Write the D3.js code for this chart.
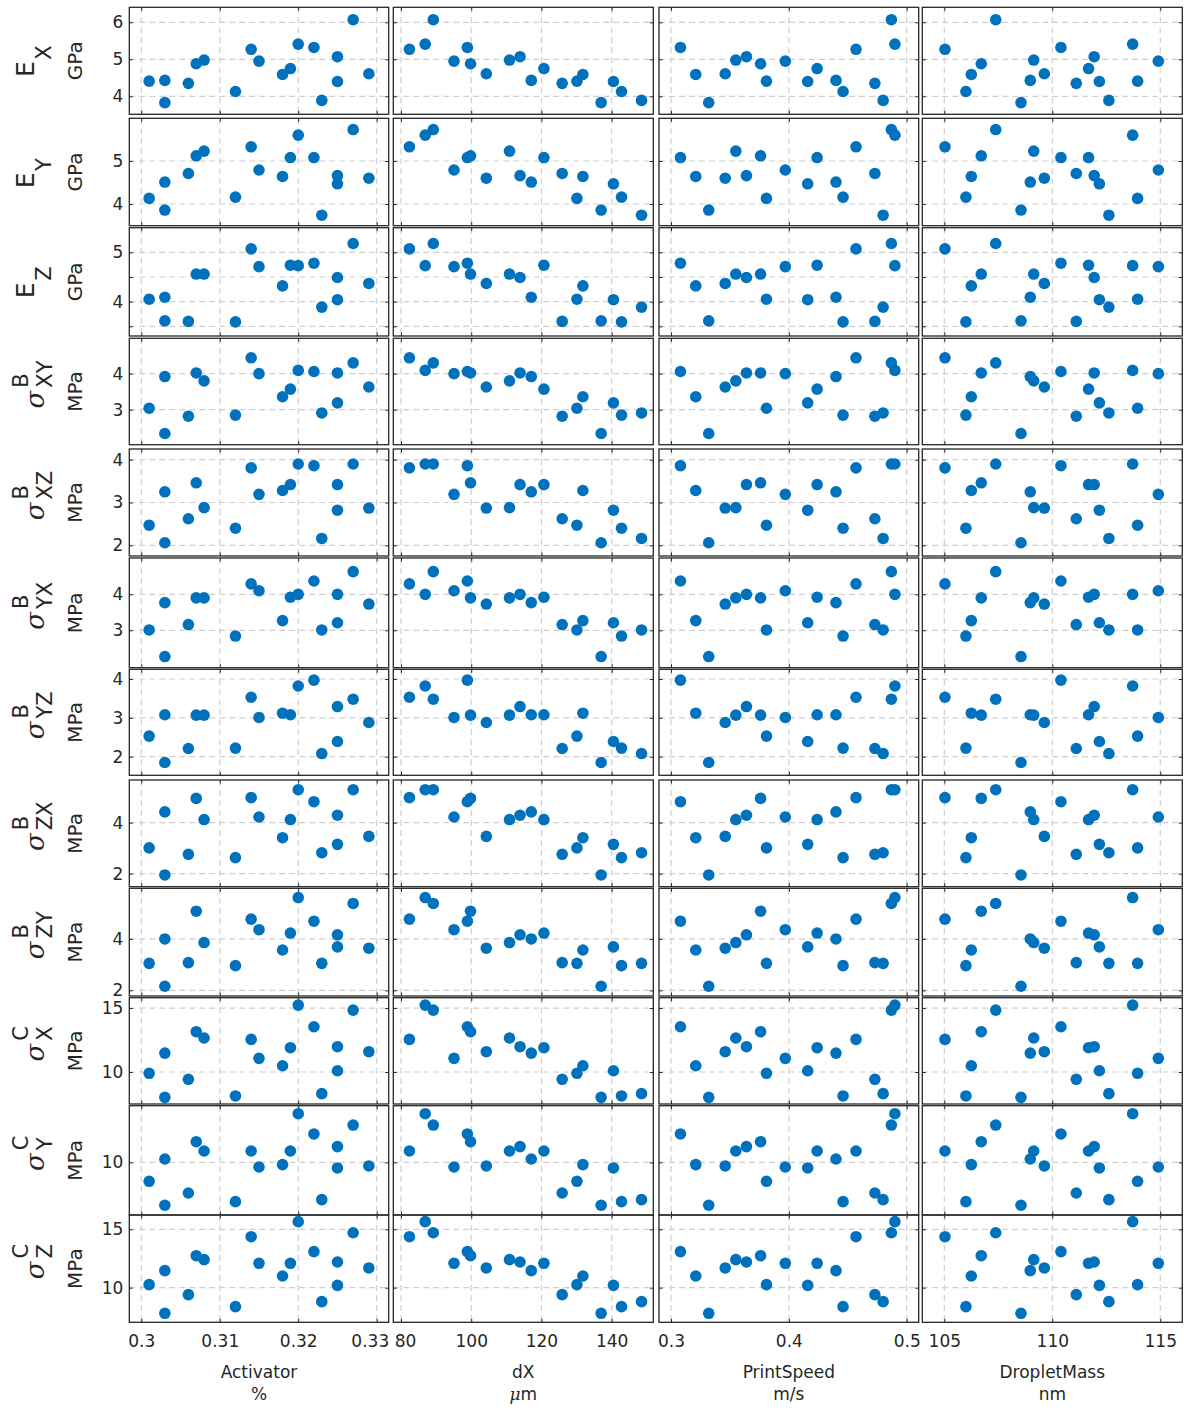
<!DOCTYPE html>
<html lang="en">
<head>
<meta charset="utf-8">
<title>print parameters vs stiffness and strength</title>
<script src="https://cdnjs.cloudflare.com/ajax/libs/d3/7.8.5/d3.min.js"></script>
<style>
  body { margin: 0; background: #fff; }
  text { font-family: "DejaVu Sans", sans-serif; fill: #262626; }
  .grid line { stroke: #cfcfcf; stroke-width: 1.2; stroke-dasharray: 6,4; }
  .ticks path { display: none; }
  .ticks line { stroke: #262626; stroke-width: 1; }
</style>
</head>
<body>
<script>
// ---- inputs, one entry per printed sample ----
var activator   = [0.301, 0.303, 0.303, 0.306, 0.307, 0.308, 0.312, 0.314, 0.315, 0.318, 0.319, 0.320, 0.322, 0.323, 0.325, 0.325, 0.327, 0.329];
var dX          = [130.1, 117.1, 137.0, 125.9, 99.8, 110.9, 142.8, 82.4, 95.1, 131.8, 120.7, 86.9, 98.9, 148.5, 113.9, 140.5, 89.2, 104.3];
var printSpeed  = [0.381, 0.440, 0.332, 0.473, 0.376, 0.355, 0.446, 0.457, 0.397, 0.321, 0.424, 0.490, 0.308, 0.480, 0.364, 0.416, 0.487, 0.346];
var dropletMass = [113.95, 108.98, 108.55, 111.11, 106.71, 109.14, 106.0, 105.03, 114.91, 106.25, 111.68, 113.72, 110.40, 112.62, 111.94, 112.18, 107.38, 109.63];

// ---- outputs ----
var Ex   = [4.41, 4.43, 3.83, 4.35, 4.88, 4.98, 4.13, 5.27, 4.95, 4.59, 4.75, 5.41, 5.32, 3.89, 5.07, 4.40, 6.07, 4.61];
var Ey   = [4.13, 4.51, 3.86, 4.71, 5.12, 5.23, 4.16, 5.33, 4.79, 4.64, 5.08, 5.60, 5.08, 3.74, 4.66, 4.47, 5.73, 4.60];
var Ez   = [4.05, 4.09, 3.61, 3.60, 4.56, 4.56, 3.59, 5.07, 4.71, 4.32, 4.74, 4.73, 4.78, 3.89, 4.49, 4.04, 5.18, 4.37];
var sBXY = [3.04, 3.92, 2.34, 2.82, 4.02, 3.80, 2.85, 4.44, 4.00, 3.36, 3.57, 4.09, 4.06, 2.91, 4.02, 3.19, 4.30, 3.63];
var sBXZ = [2.47, 3.25, 2.06, 2.62, 3.46, 2.88, 2.40, 3.81, 3.19, 3.28, 3.42, 3.90, 3.86, 2.16, 3.42, 2.82, 3.90, 2.87];
var sBYX = [3.01, 3.77, 2.27, 3.16, 3.90, 3.90, 2.84, 4.29, 4.10, 3.27, 3.92, 4.00, 4.37, 3.01, 4.00, 3.21, 4.63, 3.73];
var sBYZ = [2.53, 3.08, 1.85, 2.21, 3.07, 3.07, 2.22, 3.53, 3.01, 3.12, 3.08, 3.82, 3.97, 2.08, 3.29, 2.39, 3.48, 2.88];
var sBZX = [3.01, 4.42, 1.95, 2.76, 4.95, 4.12, 2.63, 4.98, 4.22, 3.41, 4.12, 5.29, 4.82, 2.82, 4.29, 3.15, 5.29, 3.46];
var sBZY = [3.05, 4.00, 2.16, 3.08, 5.08, 3.86, 2.96, 4.77, 4.36, 3.57, 4.23, 5.61, 4.69, 3.05, 4.16, 3.69, 5.38, 3.64];
var sCX  = [9.90, 11.48, 8.02, 9.43, 13.15, 12.66, 8.13, 12.55, 11.07, 10.49, 11.90, 15.23, 13.54, 8.31, 11.98, 10.10, 14.84, 11.59];
var sCY  = [8.58, 10.25, 6.78, 7.70, 11.55, 10.85, 7.05, 10.85, 9.65, 9.83, 10.85, 13.65, 12.13, 7.20, 11.18, 9.58, 12.80, 9.73];
var sCZ  = [10.26, 11.46, 7.80, 9.40, 12.74, 12.40, 8.37, 14.37, 12.09, 11.00, 12.09, 15.66, 13.09, 8.80, 12.20, 10.20, 14.71, 11.69];

// ---- tick values and labels ----
var activatorTicks = [0.30, 0.31, 0.32, 0.33],  activatorTickLabels = ["0.3", "0.31", "0.32", "0.33"];
var dXTicks = [80, 100, 120, 140],               dXTickLabels = ["80", "100", "120", "140"];
var speedTicks = [0.3, 0.4, 0.5],                speedTickLabels = ["0.3", "0.4", "0.5"];
var massTicks = [105, 110, 115],                 massTickLabels = ["105", "110", "115"];

var exTicks = [4, 5, 6],        exTickLabels = ["4", "5", "6"];
var eyTicks = [4, 5],           eyTickLabels = ["4", "5"];
var ezTicks = [3.5, 4, 4.5, 5], ezTickLabels = ["", "4", "", "5"];
var xyTicks = [3, 4],           xyTickLabels = ["3", "4"];
var xzTicks = [2, 3, 4],        xzTickLabels = ["2", "3", "4"];
var yxTicks = [3, 4],           yxTickLabels = ["3", "4"];
var yzTicks = [2, 3, 4],        yzTickLabels = ["2", "3", "4"];
var zxTicks = [2, 4],           zxTickLabels = ["2", "4"];
var zyTicks = [2, 4],           zyTickLabels = ["2", "4"];
var cxTicks = [10, 15],         cxTickLabels = ["10", "15"];
var cyTicks = [10],             cyTickLabels = ["10"];
var czTicks = [10, 15],         czTickLabels = ["10", "15"];

// ---- layout ----
var w = 1184, h = 1414;
var colLeft  = [129.3, 393.3, 659, 922.3];
var colRight = [388.7, 653.3, 918.7, 1182.3];
var rowTop    = [7.3, 118.3, 227.7, 338.3, 449, 558, 669.3, 780, 888.3, 997.7, 1105.7, 1215];
var rowBottom = [114.3, 225.7, 336, 444.7, 556, 667.7, 775.3, 886.7, 996, 1104, 1215, 1322.3];
var tickLen = 3.5;
var dotColor = "#0072BD";

var inputs = [
  { name: "Activator",   unit: "%",   values: activator,   domain: [0.29847, 0.33153], ticks: activatorTicks, labels: activatorTickLabels },
  { name: "dX",          unit: "μm",  values: dX,          domain: [77.81, 151.85],    ticks: dXTicks,        labels: dXTickLabels },
  { name: "PrintSpeed",  unit: "m/s", values: printSpeed,  domain: [0.2898, 0.5102],   ticks: speedTicks,     labels: speedTickLabels },
  { name: "DropletMass", unit: "nm",  values: dropletMass, domain: [103.98, 116.02],   ticks: massTicks,      labels: massTickLabels }
];

var outputs = [
  { sym: "E", sup: "",  sub: "X",  unit: "GPa", values: Ex,   domain: [3.514, 6.405], ticks: exTicks, labels: exTickLabels },
  { sym: "E", sup: "",  sub: "Y",  unit: "GPa", values: Ey,   domain: [3.496, 5.992], ticks: eyTicks, labels: eyTickLabels },
  { sym: "E", sup: "",  sub: "Z",  unit: "GPa", values: Ez,   domain: [3.304, 5.5],   ticks: ezTicks, labels: ezTickLabels },
  { sym: "σ", sup: "B", sub: "XY", unit: "MPa", values: sBXY, domain: [2.03, 4.98],   ticks: xyTicks, labels: xyTickLabels },
  { sym: "σ", sup: "B", sub: "XZ", unit: "MPa", values: sBXZ, domain: [1.75, 4.25],   ticks: xzTicks, labels: xzTickLabels },
  { sym: "σ", sup: "B", sub: "YX", unit: "MPa", values: sBYX, domain: [1.96, 5.01],   ticks: yxTicks, labels: yxTickLabels },
  { sym: "σ", sup: "B", sub: "YZ", unit: "MPa", values: sBYZ, domain: [1.52, 4.25],   ticks: yzTicks, labels: yzTickLabels },
  { sym: "σ", sup: "B", sub: "ZX", unit: "MPa", values: sBZX, domain: [1.49, 5.67],   ticks: zxTicks, labels: zxTickLabels },
  { sym: "σ", sup: "B", sub: "ZY", unit: "MPa", values: sBZY, domain: [1.78, 5.97],   ticks: zyTicks, labels: zyTickLabels },
  { sym: "σ", sup: "C", sub: "X",  unit: "MPa", values: sCX,  domain: [7.5, 15.81],   ticks: cxTicks, labels: cxTickLabels },
  { sym: "σ", sup: "C", sub: "Y",  unit: "MPa", values: sCY,  domain: [6.05, 14.25],  ticks: cyTicks, labels: cyTickLabels },
  { sym: "σ", sup: "C", sub: "Z",  unit: "MPa", values: sCZ,  domain: [7.03, 16.23],  ticks: czTicks, labels: czTickLabels }
];

var svg = d3.select("body").append("svg")
  .attr("width", w)
  .attr("height", h);

function labelFrom(ticks, labels) {
  return function(d) { return labels[ticks.indexOf(d)]; };
}

outputs.forEach(function(out, r) {
  var top = rowTop[r], bottom = rowBottom[r];
  var yScale = d3.scaleLinear().domain(out.domain).range([bottom, top]);

  inputs.forEach(function(inp, c) {
    var left = colLeft[c], right = colRight[c];
    var xScale = d3.scaleLinear().domain(inp.domain).range([left, right]);
    var g = svg.append("g");

    // dashed grid
    var grid = g.append("g").attr("class", "grid");
    grid.selectAll(".gx").data(inp.ticks).enter().append("line")
      .attr("x1", function(d) { return xScale(d); })
      .attr("x2", function(d) { return xScale(d); })
      .attr("y1", top).attr("y2", bottom);
    grid.selectAll(".gy").data(out.ticks).enter().append("line")
      .attr("x1", left).attr("x2", right)
      .attr("y1", function(d) { return yScale(d); })
      .attr("y2", function(d) { return yScale(d); });

    // inward ticks on all four sides
    g.append("g").attr("class", "ticks").attr("transform", "translate(0," + bottom + ")")
      .call(d3.axisBottom(xScale).tickValues(inp.ticks).tickSize(-tickLen).tickFormat(""));
    g.append("g").attr("class", "ticks").attr("transform", "translate(0," + top + ")")
      .call(d3.axisTop(xScale).tickValues(inp.ticks).tickSize(-tickLen).tickFormat(""));
    g.append("g").attr("class", "ticks").attr("transform", "translate(" + left + ",0)")
      .call(d3.axisLeft(yScale).tickValues(out.ticks).tickSize(-tickLen).tickFormat(""));
    g.append("g").attr("class", "ticks").attr("transform", "translate(" + right + ",0)")
      .call(d3.axisRight(yScale).tickValues(out.ticks).tickSize(-tickLen).tickFormat(""));

    // points
    g.selectAll("circle")
      .data(inp.values)
      .enter()
      .append("circle")
      .attr("cx", function(d) { return xScale(d); })
      .attr("cy", function(d, i) { return yScale(out.values[i]); })
      .attr("r", 5.8)
      .attr("fill", dotColor);

    // frame
    g.append("rect")
      .attr("x", left).attr("y", top)
      .attr("width", right - left).attr("height", bottom - top)
      .attr("fill", "none")
      .attr("stroke", "#262626")
      .attr("stroke-width", 1.3);

    // y tick labels on the first column
    if (c === 0) {
      var ya = g.append("g").attr("transform", "translate(" + left + ",0)")
        .call(d3.axisLeft(yScale).tickValues(out.ticks).tickSize(0).tickPadding(6)
          .tickFormat(labelFrom(out.ticks, out.labels)));
      ya.select(".domain").remove();
      ya.selectAll("text").style("font-size", "17px").attr("fill", "#262626");
    }

    // x tick labels and names under the last row
    if (r === outputs.length - 1) {
      var xa = g.append("g").attr("transform", "translate(0," + bottom + ")")
        .call(d3.axisBottom(xScale).tickValues(inp.ticks).tickSize(0).tickPadding(12.5)
          .tickFormat(labelFrom(inp.ticks, inp.labels)));
      xa.select(".domain").remove();
      xa.selectAll("text").style("font-size", "17px").attr("fill", "#262626");
      // keep end labels inside their own panel
      xa.selectAll(".tick text").each(function(d) {
        var tx = xScale(d), half = this.getComputedTextLength() / 2;
        if (tx - half < left - 3) d3.select(this).attr("x", left + 1 + half - tx);
        if (tx + half > right + 3) d3.select(this).attr("x", right - half - tx);
      });

      var cx = (left + right) / 2;
      g.append("text").attr("x", cx).attr("y", 1378)
        .attr("text-anchor", "middle").style("font-size", "17px").text(inp.name);
      var u = g.append("text").attr("x", cx).attr("y", 1400)
        .attr("text-anchor", "middle").style("font-size", "17px");
      if (inp.unit === "μm") {
        u.append("tspan").style("font-family", "DejaVu Serif, serif").style("font-style", "italic").text("μ");
        u.append("tspan").text("m");
      } else {
        u.text(inp.unit);
      }
    }
  });

  // rotated row label
  var cy = (top + bottom) / 2;
  var lab = svg.append("g").attr("transform", "translate(0," + cy + ") rotate(-90)");
  if (out.sym === "E") {
    lab.append("text").attr("x", -0.5).attr("y", 34).attr("text-anchor", "end")
      .style("font-size", "25px").text("E");
    lab.append("text").attr("x", 1).attr("y", 51).style("font-size", "21px").text(out.sub);
  } else {
    var sig = lab.append("text").attr("y", 44).attr("text-anchor", "end")
      .style("font-family", "DejaVu Serif, serif").style("font-style", "italic")
      .style("font-size", "26px").text(out.sym);
    var sup = lab.append("text").attr("y", 28).style("font-size", "21px").text(out.sup);
    var sub = lab.append("text").attr("y", 52).style("font-size", "21px").text(out.sub);
    var ws = sig.node().getComputedTextLength();
    var wsc = Math.max(sup.node().getComputedTextLength(), sub.node().getComputedTextLength());
    var start = -(ws + 3 + wsc) / 2 + 7;
    sig.attr("x", start + ws);
    sup.attr("x", start + ws + 3);
    sub.attr("x", start + ws + 3);
  }
  lab.append("text").attr("x", 0).attr("y", 82).attr("text-anchor", "middle")
    .style("font-size", "20px").text(out.unit);
});
</script>
</body>
</html>
